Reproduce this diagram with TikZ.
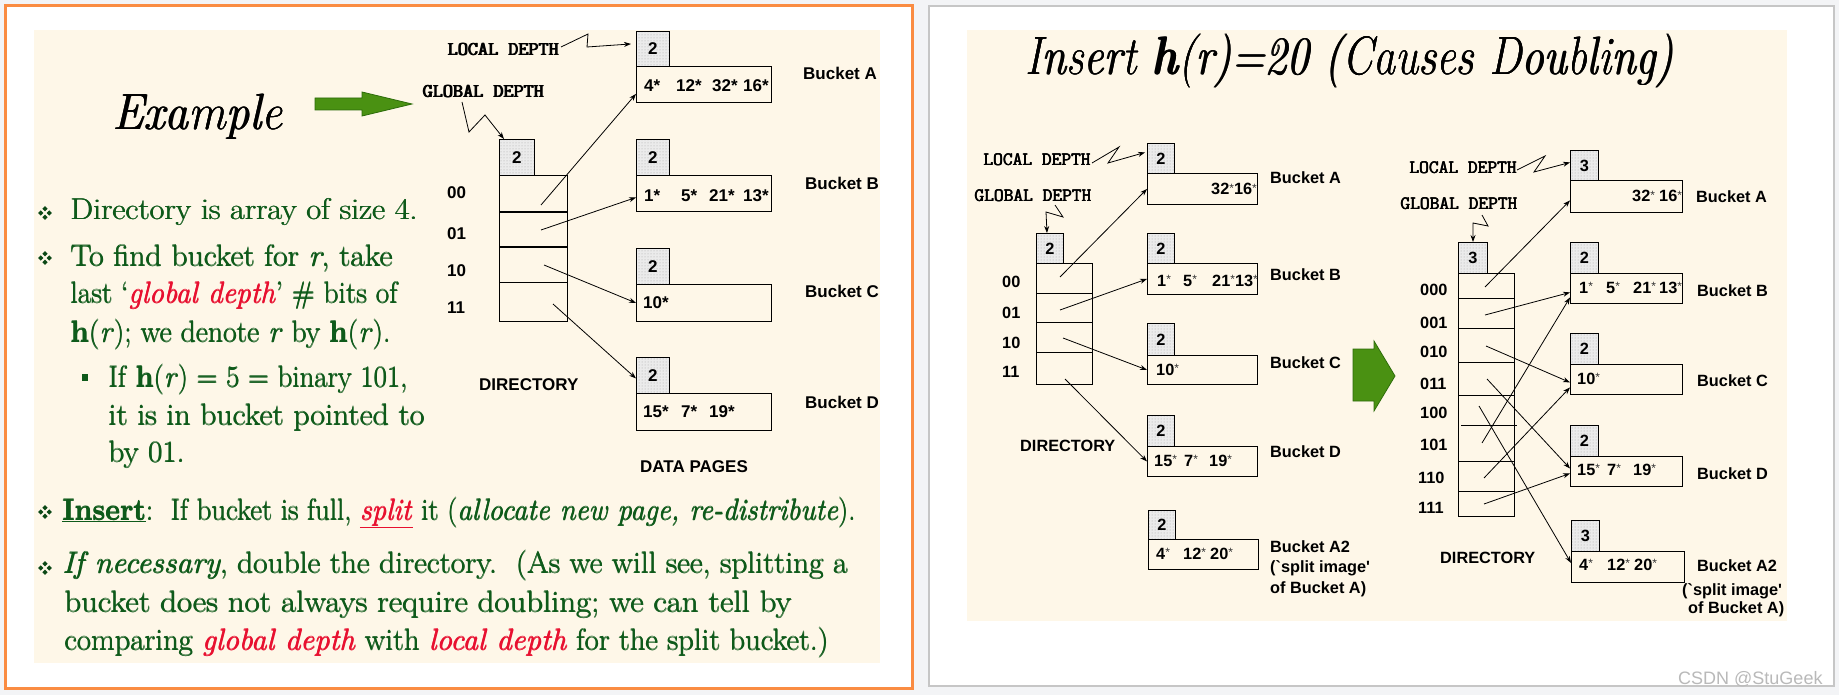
\documentclass[tikz,border=0pt]{standalone}
\usepackage{fontspec}
\usepackage{graphicx}
\usetikzlibrary{arrows.meta,patterns}
\newfontfamily\arialf{Liberation Sans}
\definecolor{cream}{RGB}{254,247,232}
\definecolor{slgreen}{RGB}{14,90,26}
\definecolor{slred}{RGB}{232,16,48}
\definecolor{orangeb}{RGB}{250,140,66}
\definecolor{pagebg}{RGB}{243,244,246}
\definecolor{arrowgreen}{RGB}{74,145,18}
\definecolor{arrowedge}{RGB}{44,108,10}
\newcommand\fitw[2]{\resizebox{#1pt}{\height}{#2}}
\newcommand\pb[2]{\makebox[0pt][l]{\hspace{#1}#2}\makebox[0pt][l]{\hspace{0.5\dimexpr#1\relax}\raisebox{0.4\dimexpr#1\relax}{#2}}#2}
\newcommand\bx[2]{\makebox[#1pt][l]{#2}}
\newcommand\st{\raisebox{2.5pt}{\fontsize{12}{12}\selectfont\mdseries\textcolor{black!80}{*}}}
\newcommand\rd[1]{\textcolor{slred}{\textit{#1}}}
\newcommand\qbul[2]{\foreach \dx/\dy in {0/-4.3,0/4.3,-4.3/0,4.3/0}{\fill[slgreen!80!black] ({#1+\dx},{#2+\dy}) +(0,-2.6) -- +(2.6,0) -- +(0,2.6) -- +(-2.6,0) -- cycle;}}
\begin{document}
\begin{tikzpicture}[x=1pt,y=-1pt,
  ld/.style={draw, line width=0.9pt, preaction={fill=gray!16}, pattern=dots, pattern color=gray!70, inner sep=0pt, anchor=north west},
  bk/.style={draw, line width=0.9pt, inner sep=0pt, anchor=north west},
  dg/.style={anchor=base west, inner sep=0pt, font=\arialf\bfseries\fontsize{17}{17}\selectfont},
  dgr/.style={anchor=base west, inner sep=0pt, font=\arialf\bfseries\fontsize{16.3}{16.3}\selectfont},
  ldl/.style={ld, font=\arialf\bfseries\fontsize{17}{17}\selectfont},
  ldr/.style={ld, font=\arialf\bfseries\fontsize{16.3}{16.3}\selectfont},
  mono/.style={anchor=base west, inner sep=0pt, font=\ttfamily\fontsize{19.6}{20}\selectfont},
  monor/.style={anchor=base west, inner sep=0pt, font=\ttfamily\fontsize{18.9}{20}\selectfont},
  arr/.style={line width=0.8pt, -{Stealth[length=7pt,width=5pt]}},
  body/.style={anchor=base west, inner sep=0pt, text=slgreen, font=\fontsize{30}{34}\selectfont},
  bigt/.style={anchor=base west, inner sep=0pt, text=black},
  greenarrow/.style={draw=arrowedge, fill=arrowgreen, line width=0.8pt, line join=miter}
]
\useasboundingbox (0,0) rectangle (1839,695);
\fill[pagebg] (0,0) rectangle (1839,695);
% ---------------- left panel ----------------
\draw[orangeb, line width=3pt, fill=white] (5.5,5.5) rectangle (912,688);
\fill[cream] (34,30) rectangle (880,663);
\node[bigt, font=\fontsize{51}{60}\selectfont\itshape] (ttlL) at (112,130) {\fitw{170}{\pb{0.9pt}{Example}}};
\draw[greenarrow] (315,98) -- (362,98) -- (362,92) -- (412,104) -- (362,116) -- (362,110) -- (315,110) -- cycle;

\qbul{45}{213}
\qbul{45}{258}
\qbul{45}{512}
\qbul{45}{568}
\fill[slgreen] (82,374) rectangle (88,381);
\node[body] (b1) at (70,220) {\fitw{347}{\pb{0.7pt}{Directory is array of size 4.}}};
\node[body] (b2) at (70,266) {\fitw{322}{\pb{0.7pt}{To find bucket for \textit{r}, take}}};
\node[body] (b3) at (70,303) {\fitw{327}{\pb{0.7pt}{last `\rd{global depth}' \# bits of}}};
\node[body] (b4) at (70,342) {\fitw{320}{\pb{0.7pt}{\textbf{h}(\textit{r}); we denote \textit{r} by \textbf{h}(\textit{r}).}}};
\node[body] (b5) at (108,387) {\fitw{299}{\pb{0.7pt}{If \textbf{h}(\textit{r}) = 5 = binary 101,}}};
\node[body] (b6) at (108,425) {\fitw{316}{\pb{0.7pt}{it is in bucket pointed to}}};
\node[body] (b7) at (108,462) {\fitw{76}{\pb{0.7pt}{by 01.}}};
\node[body] (b8) at (62,520) {\fitw{793}{\pb{0.7pt}{\underline{\textbf{Insert}}:\ \ If bucket is full, \textcolor{slred}{\underline{\textit{split}}} it (\textit{allocate new page, re-distribute}).}}};
\node[body] (b9) at (62,573) {\fitw{785}{\pb{0.7pt}{\textit{If necessary}, double the directory.\ \ (As we will see, splitting a}}};
\node[body] (b10) at (64,612) {\fitw{727}{\pb{0.7pt}{bucket does not always require doubling; we can tell by}}};
\node[body] (b11) at (64,650) {\fitw{764}{\pb{0.7pt}{comparing \rd{global depth} with \rd{local depth} for the split bucket.)}}};

% left diagram
\node[mono] (LLD) at (447,56) {\pb{1.2pt}{LOCAL DEPTH}};
\node[mono] (LGD) at (422,98) {\pb{1.2pt}{GLOBAL DEPTH}};
\node[ldl, minimum width=33pt, minimum height=35pt] (LAd) at (636,31) {2};
\node[bk, minimum width=135pt, minimum height=36pt] (LA) at (636,66) {};
\node[dg] (LAt) at (644,92) {\bx{32}{4*}\bx{36}{12*}\bx{31}{32*}16*};
\node[dg] (LAl) at (803,80) {Bucket A};
\node[ldl, minimum width=33pt, minimum height=36pt] (LBd) at (636,139) {2};
\node[bk, minimum width=135pt, minimum height=36pt] (LB) at (636,175) {};
\node[dg] (LBt) at (644,202) {\bx{37}{1*}\bx{28}{5*}\bx{34}{21*}13*};
\node[dg] (LBl) at (805,190) {Bucket B};
\node[ldl, minimum width=33pt, minimum height=36pt] (LCd) at (636,248) {2};
\node[bk, minimum width=135pt, minimum height=37pt] (LC) at (636,284) {};
\node[dg] (LCt) at (643,308) {10*};
\node[dg] (LCl) at (805,297) {Bucket C};
\node[ldl, minimum width=33pt, minimum height=36pt] (LDd) at (636,357) {2};
\node[bk, minimum width=135pt, minimum height=37pt] (LD) at (636,393) {};
\node[dg] (LDt) at (643,417) {\bx{38}{15*}\bx{28}{7*}19*};
\node[dg] (LDl) at (805,408) {Bucket D};

\node[ldl, minimum width=35pt, minimum height=36pt] (LGd) at (499,139) {2};
\node[bk, minimum width=68pt, minimum height=36pt] (L00) at (499,175) {};
\node[bk, minimum width=68pt, minimum height=35pt] (L01) at (499,211) {};
\node[bk, minimum width=68pt, minimum height=36pt] (L10) at (499,246) {};
\node[bk, minimum width=68pt, minimum height=39pt] (L11) at (499,282) {};
\draw[line width=1.8pt] (L00.south west) -- (L00.south east);
\draw[line width=1.8pt] (L01.south west) -- (L01.south east);
\node[dg] (Lk0) at (447,199) {00};
\node[dg] (Lk1) at (447,240) {01};
\node[dg] (Lk2) at (447,276) {10};
\node[dg] (Lk3) at (447,313) {11};
\node[dg] (LDIR) at (479,390) {DIRECTORY};
\node[dg] (LDP) at (640,472) {DATA PAGES};

\coordinate (zl) at (561,47);
\draw[arr] (zl) -- (588,34) -- (587,47) -- ([xshift=-5pt,yshift=5pt]LAd.west);
\coordinate (zg) at (462,102);
\draw[arr] (zg) -- (469,132) -- (485,115) -- ([xshift=5pt]LGd.north west);
\coordinate (sL0) at (541,205);
\coordinate (sL1) at (541,230);
\coordinate (sL2) at (544,265);
\coordinate (sL3) at (553,304);
\draw[arr] (sL0) -- ([yshift=9pt]LA.south west);
\draw[arr] (sL1) -- ([yshift=-4pt]LB.west);
\draw[arr] (sL2) -- (LC.west);
\draw[arr] (sL3) -- ([yshift=-3pt]LDd.west);

% ---------------- right panel ----------------
\draw[gray!45, line width=1.5pt, fill=white] (929,6) rectangle (1834,686);
\fill[cream] (967,30) rectangle (1787,621);
\node[bigt, font=\fontsize{54}{60}\selectfont\itshape] (ttlR) at (1025,75) {\fitw{648}{\pb{0.9pt}{Insert \textbf{h}(r)=20 (Causes Doubling)}}};
\draw[greenarrow] (1353,349) -- (1374,349) -- (1374,341) -- (1395,376) -- (1374,411) -- (1374,401) -- (1353,401) -- cycle;

% before doubling
\node[monor] (RLD) at (983,166) {\pb{0.7pt}{LOCAL DEPTH}};
\node[monor] (RGD) at (974,202) {\pb{0.7pt}{GLOBAL DEPTH}};
\node[ldr, minimum width=27pt, minimum height=30pt] (RAd) at (1147,143) {2};
\node[bk, minimum width=110pt, minimum height=31pt] (RA) at (1147,173) {};
\node[dgr] (RAt) at (1211,195) {32\st16\st};
\node[dgr] (RAl) at (1270,184) {Bucket A};
\node[ldr, minimum width=27pt, minimum height=30pt] (RBd) at (1147,233) {2};
\node[bk, minimum width=110pt, minimum height=31pt] (RB) at (1147,263) {};
\node[dgr] (RBt) at (1157,286) {\bx{26}{1\st}\bx{29}{5\st}21\st13\st};
\node[dgr] (RBl) at (1270,280) {Bucket B};
\node[ldr, minimum width=27pt, minimum height=32pt] (RCd) at (1147,323) {2};
\node[bk, minimum width=110pt, minimum height=29pt] (RC) at (1147,355) {};
\node[dgr] (RCt) at (1156,375) {10\st};
\node[dgr] (RCl) at (1270,368) {Bucket C};
\node[ldr, minimum width=27pt, minimum height=31pt] (RDd) at (1147,415) {2};
\node[bk, minimum width=110pt, minimum height=30pt] (RD) at (1147,446) {};
\node[dgr] (RDt) at (1154,466) {\bx{30}{15\st}\bx{25}{7\st}19\st};
\node[dgr] (RDl) at (1270,457) {Bucket D};
\node[ldr, minimum width=27pt, minimum height=29pt] (RA2d) at (1148,510) {2};
\node[bk, minimum width=110pt, minimum height=30pt] (RA2) at (1148,539) {};
\node[dgr] (RA2t) at (1156,559) {\bx{27}{4\st}\bx{27}{12\st}20\st};
\node[dgr] (RA2l) at (1270,552) {Bucket A2};
\node[dgr] (RA2m) at (1270,572) {(\textasciigrave split image\textquotesingle};
\node[dgr] (RA2n) at (1270,593) {of Bucket A)};

\node[ldr, minimum width=27pt, minimum height=30pt] (RGd) at (1036,233) {2};
\node[bk, minimum width=56pt, minimum height=30pt] (R00) at (1036,263) {};
\node[bk, minimum width=56pt, minimum height=29pt] (R01) at (1036,293) {};
\node[bk, minimum width=56pt, minimum height=30pt] (R10) at (1036,322) {};
\node[bk, minimum width=56pt, minimum height=32pt] (R11) at (1036,352) {};
\node[dgr] (Rk0) at (1002,287) {00};
\node[dgr] (Rk1) at (1002,318) {01};
\node[dgr] (Rk2) at (1002,348) {10};
\node[dgr] (Rk3) at (1002,377) {11};
\node[dgr] (RDIR) at (1020,451) {DIRECTORY};

\coordinate (rzl) at (1092,163);
\draw[arr] (rzl) -- (1119,147) -- (1108,163) -- ([xshift=-2pt,yshift=6pt]RAd.west);
\coordinate (rzg) at (1055,205);
\draw[arr] (rzg) -- (1063,217) -- (1046,212) -- ([xshift=11pt]RGd.north west);
\coordinate (sR0) at (1060,277);
\coordinate (sR1) at (1060,310);
\coordinate (sR2) at (1063,338);
\coordinate (sR3) at (1065,379);
\draw[arr] (sR0) -- (RA.west);
\draw[arr] (sR1) -- (RB.west);
\draw[arr] (sR2) -- (RC.west);
\draw[arr] (sR3) -- (RD.west);

% after doubling
\node[monor] (SLD) at (1409,174) {\pb{0.7pt}{LOCAL DEPTH}};
\node[monor] (SGD) at (1400,210) {\pb{0.7pt}{GLOBAL DEPTH}};
\node[ldr, minimum width=28pt, minimum height=30pt] (SAd) at (1570,150) {3};
\node[bk, minimum width=112pt, minimum height=32pt] (SA) at (1570,180) {};
\node[dgr] (SAt) at (1632,202) {\bx{27}{32\st}16\st};
\node[dgr] (SAl) at (1696,203) {Bucket A};
\node[ldr, minimum width=28pt, minimum height=31pt] (SBd) at (1570,242) {2};
\node[bk, minimum width=112pt, minimum height=30pt] (SB) at (1570,273) {};
\node[dgr] (SBt) at (1579,293) {\bx{27}{1\st}\bx{27}{5\st}\bx{26}{21\st}13\st};
\node[dgr] (SBl) at (1697,296) {Bucket B};
\node[ldr, minimum width=28pt, minimum height=31pt] (SCd) at (1570,333) {2};
\node[bk, minimum width=112pt, minimum height=30pt] (SC) at (1570,364) {};
\node[dgr] (SCt) at (1577,384) {10\st};
\node[dgr] (SCl) at (1697,386) {Bucket C};
\node[ldr, minimum width=28pt, minimum height=31pt] (SDd) at (1570,425) {2};
\node[bk, minimum width=112pt, minimum height=30pt] (SD) at (1570,456) {};
\node[dgr] (SDt) at (1577,475) {\bx{30}{15\st}\bx{26}{7\st}19\st};
\node[dgr] (SDl) at (1697,479) {Bucket D};
\node[ldr, minimum width=28pt, minimum height=31pt] (SA2d) at (1571,520) {3};
\node[bk, minimum width=113pt, minimum height=31pt] (SA2) at (1571,551) {};
\node[dgr] (SA2t) at (1579,570) {\bx{28}{4\st}\bx{27}{12\st}20\st};
\node[dgr] (SA2l) at (1697,571) {Bucket A2};
\node[dgr] (SA2m) at (1682,595) {(\textasciigrave split image\textquotesingle};
\node[dgr] (SA2n) at (1688,613) {of Bucket A)};

\node[ldr, minimum width=29pt, minimum height=31pt] (SGd) at (1458,242) {3};
\node[bk, minimum width=56pt, minimum height=243pt] (Sdir) at (1458,273) {};
\foreach \yy in {298,328,362,395,461,491}{\draw[line width=0.9pt] (1458,\yy) -- (1514,\yy);}
\draw[line width=0.9pt] (1461,425) -- (1517,425);
\node[dgr] (Sk0) at (1420,295) {000};
\node[dgr] (Sk1) at (1420,328) {001};
\node[dgr] (Sk2) at (1420,357) {010};
\node[dgr] (Sk3) at (1420,389) {011};
\node[dgr] (Sk4) at (1420,418) {100};
\node[dgr] (Sk5) at (1420,450) {101};
\node[dgr] (Sk6) at (1418,483) {110};
\node[dgr] (Sk7) at (1418,513) {111};
\node[dgr] (SDIR) at (1440,563) {DIRECTORY};

\coordinate (szl) at (1517,170);
\draw[arr] (szl) -- (1545,156) -- (1534,172) -- ([yshift=3pt]SAd.west);
\coordinate (szg) at (1482,215);
\draw[arr] (szg) -- (1488,226) -- (1473,223) -- ([xshift=15pt]SGd.north west);
\coordinate (sS0) at (1485,287);
\coordinate (sS1) at (1485,315);
\coordinate (sS2) at (1486,346);
\coordinate (sS3) at (1487,379);
\coordinate (sS4) at (1479,406);
\coordinate (sS5) at (1482,443);
\coordinate (sS6) at (1484,478);
\coordinate (sS7) at (1484,504);
\draw[arr] (sS0) -- ([yshift=-4pt]SA.west);
\draw[arr] (sS1) -- ([yshift=-4pt]SB.west);
\draw[arr] (sS2) -- ([yshift=-3pt]SC.west);
\draw[arr] (sS3) -- ([yshift=3pt]SD.west);
\draw[arr] (sS4) -- ([yshift=4pt]SA2.west);
\draw[arr] (sS5) -- ([yshift=-9pt]SB.west);
\draw[arr] (sS6) -- ([yshift=-8pt]SC.west);
\draw[arr] (sS7) -- ([yshift=-2pt]SD.west);

\node[anchor=base west, inner sep=0pt, text=gray!55, font=\arialf\fontsize{18}{20}\selectfont] (wm) at (1678,684) {CSDN @StuGeek};
\end{tikzpicture}
\end{document}
